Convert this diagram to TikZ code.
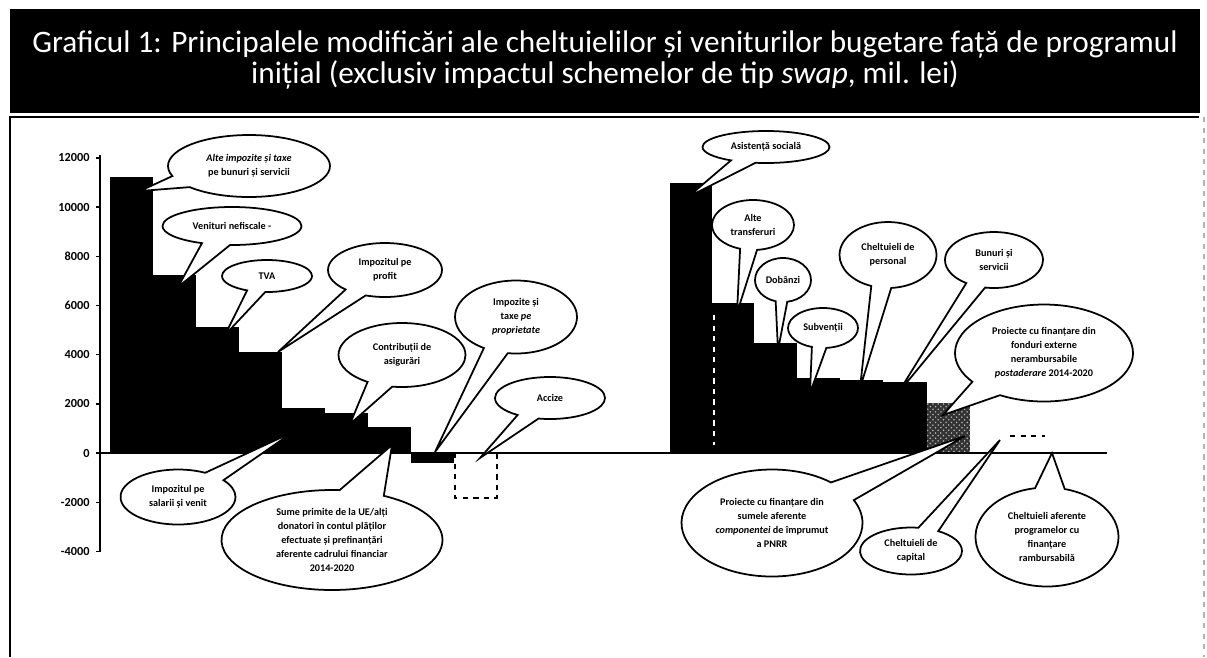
\documentclass[tikz,border=0pt]{standalone}
\usepackage{fontspec}
\setmainfont{Carlito}
\usetikzlibrary{shapes.callouts,patterns}
\tikzset{
  bub/.style={
    ellipse callout,
    draw,
    fill=white,
    line width=1pt,
    align=center,
    inner sep=0pt,
    callout pointer arc=24,
    font=\bfseries\fontsize{5.8}{8}\selectfont},
  sz/.style 2 args={minimum width=#1*0.02cm, minimum height=#2*0.02cm},
  ticklab/.style={anchor=east, inner sep=0pt, font=\bfseries\fontsize{7}{8}\selectfont},
  ttl/.style={anchor=base, inner sep=0pt, text=white, font=\fontsize{17.8}{18}\selectfont}
  }
\begin{document}
\begin{tikzpicture}[x=0.02cm, y=-0.02cm]
      \useasboundingbox (0,0) rectangle (1207,657);
      \fill (10,9) rectangle (1200,113);
      \node [ttl] (title1) at (605,52) {Graficul 1: Principalele modificări ale cheltuielilor și veniturilor bugetare față de programul};
      \node [ttl] (title2) at (605,83) {inițial (exclusiv impactul schemelor de tip \textit{swap}, mil. lei)};
      \draw [line width=0.6pt] (10,657) -- (10,117) -- (1199,117);
      \draw [gray!60, dashed, line width=0.6pt] (1204,117) -- (1204,657);
      % left axis
      \draw [line width=0.8pt] (100,155) -- (100,552);
      \foreach \v in {-4000,-2000,...,12000} {
        \pgfmathsetmacro{\yy}{453-\v*0.0246}
        \draw [line width=0.8pt] (96,\yy) -- (100,\yy);
        \node [ticklab] (tk\v) at (90,\yy) {\v};
      }
      \foreach \xa/\xb/\yt in {110/153/177, 153/196/275, 196/239/327, 239/282/352,
                               282/325/408, 325/368/413, 368/411/427, 411/454/463,
                               670/712/183, 712/754/303, 754/797/343, 797/840/378,
                               840/883/380, 883/927/382}
        \fill (\xa,453) rectangle (\xb,\yt);
      \fill [black!80] (927,453) rectangle (970,403);
      \fill [pattern=crosshatch dots, pattern color=gray!60] (927,453) rectangle (970,403);
      \draw [white, dashed, line width=1pt] (714,315) -- (714,445);
      \draw [dashed, line width=0.8pt] (455,453) rectangle (497,498);
      \draw [dashed, line width=0.6pt] (1010,436) -- (1045,436);
      \draw [line width=0.8pt] (100,453) -- (1107,453);
      % pointer tips
      \coordinate (p1) at (140,191);
      \coordinate (p2) at (178,287);
      \coordinate (p3) at (225,335);
      \coordinate (p4) at (278,352);
      \coordinate (p5) at (350,424);
      \coordinate (p6) at (435,452);
      \coordinate (p7) at (480,458);
      \coordinate (p8) at (293,432);
      \coordinate (p9) at (392,445);
      \coordinate (p10) at (688,197);
      \coordinate (p11) at (737,313);
      \coordinate (p12) at (778,350);
      \coordinate (p13) at (810,393);
      \coordinate (p14) at (860,388);
      \coordinate (p15) at (898,393);
      \coordinate (p16) at (943,415);
      \coordinate (p17) at (965,436);
      \coordinate (p18) at (1000,440);
      \coordinate (p19) at (1052,453);
      % callouts
      \node [bub, sz={162}{62}, callout absolute pointer={(p1)}] (altetaxe) at (249,166) {\textit{Alte impozite și taxe}\\pe bunuri și servicii};
      \node [bub, sz={139}{38}, callout absolute pointer={(p2)}] (nefiscale) at (232,226) {Venituri nefiscale -};
      \node [bub, sz={90}{32}, callout absolute pointer={(p3)}] (tva) at (267,276) {TVA};
      \node [bub, sz={114}{54}, callout absolute pointer={(p4)}] (profit) at (385,270) {Impozitul pe\\profit};
      \node [bub, sz={127}{64}, callout absolute pointer={(p5)}] (contrib) at (402,355) {Contribuții de\\asigurări};
      \node [bub, sz={122}{73}, callout absolute pointer={(p6)}] (propriet) at (516,317) {Impozite și\\taxe \textit{pe}\\\textit{proprietate}};
      \node [bub, sz={110}{42}, callout absolute pointer={(p7)}] (accize) at (550,398) {Accize};
      \node [bub, sz={115}{55}, callout absolute pointer={(p8)}] (salarii) at (178,497) {Impozitul pe\\salarii și venit};
      \node [bub, sz={221}{100}, callout absolute pointer={(p9)}] (sumeue) at (332,540) {Sume primite de la UE/alți\\donatori în contul plăților\\efectuate și prefinanțări\\aferente cadrului financiar\\2014-2020};
      \node [bub, sz={127}{32}, callout absolute pointer={(p10)}] (asist) at (766,147) {Asistență socială};
      \node [bub, sz={82}{50}, callout absolute pointer={(p11)}] (transf) at (753,225) {Alte\\transferuri};
      \node [bub, sz={56}{44}, callout absolute pointer={(p12)}] (dobanzi) at (783,280) {Dobânzi};
      \node [bub, sz={70}{40}, callout absolute pointer={(p13)}] (subv) at (823,328) {Subvenții};
      \node [bub, sz={97}{66}, callout absolute pointer={(p14)}] (personal) at (888,255) {Cheltuieli de\\personal};
      \node [bub, sz={98}{56}, callout absolute pointer={(p15)}] (bunuri) at (994,260) {Bunuri și\\servicii};
      \node [bub, sz={178}{97}, callout absolute pointer={(p16)}] (fonduri) at (1044,353) {Proiecte cu finanțare din\\fonduri externe\\nerambursabile\\\textit{postaderare} 2014-2020};
      \node [bub, sz={181}{107}, callout absolute pointer={(p17)}] (pnrr) at (772,523) {Proiecte cu finanțare din\\sumele aferente\\\textit{componentei} de împrumut\\a PNRR};
      \node [bub, sz={102}{47}, callout absolute pointer={(p18)}] (capital) at (911,551) {Cheltuieli de\\capital};
      \node [bub, sz={143}{99}, callout absolute pointer={(p19)}] (rambursa) at (1047,537) {Cheltuieli aferente\\programelor cu\\finanțare\\rambursabilă};
\end{tikzpicture}
\end{document}
